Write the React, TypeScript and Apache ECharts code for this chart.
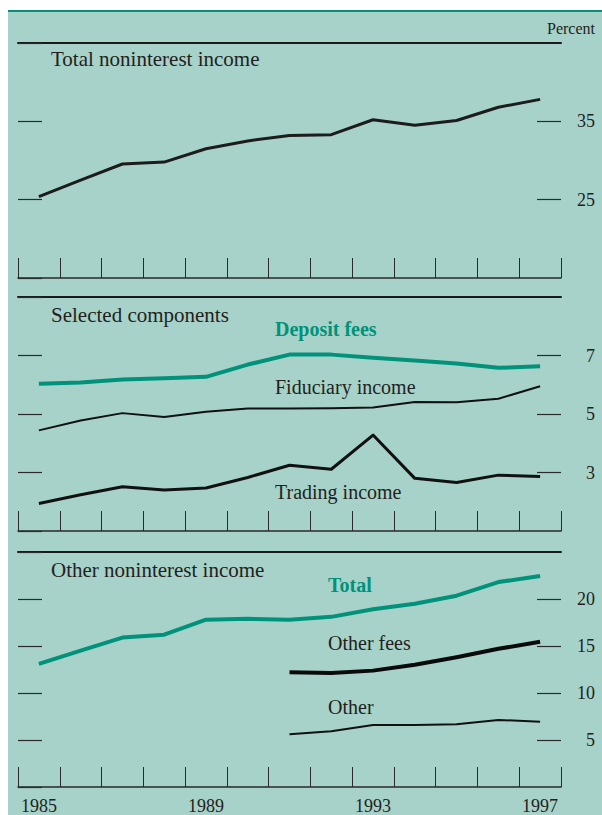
import React, { useEffect, useRef } from "react";
import * as echarts from "echarts";

const years = ["1985", "1986", "1987", "1988", "1989", "1990", "1991", "1992", "1993", "1994", "1995", "1996", "1997"];
const totalNoninterest = [25.4, 27.5, 29.55, 29.8, 31.5, 32.5, 33.2, 33.3, 35.2, 34.5, 35.1, 36.8, 37.8];
const depositFees = [6.03, 6.08, 6.18, 6.22, 6.27, 6.69, 7.03, 7.03, 6.92, 6.83, 6.73, 6.58, 6.63];
const fiduciaryIncome = [4.44, 4.78, 5.03, 4.9, 5.08, 5.19, 5.19, 5.2, 5.22, 5.41, 5.4, 5.52, 5.95];
const tradingIncome = [1.94, 2.24, 2.51, 2.4, 2.47, 2.83, 3.25, 3.11, 4.28, 2.8, 2.66, 2.91, 2.86];
const otherTotal = [13.1, 14.5, 15.9, 16.2, 17.8, 17.9, 17.8, 18.1, 18.9, 19.5, 20.35, 21.8, 22.45];
const otherFees = [null, null, null, null, null, null, 12.2, 12.13, 12.38, 13.0, 13.8, 14.7, 15.45];
const otherOther = [null, null, null, null, null, null, 5.6, 5.92, 6.6, 6.6, 6.67, 7.13, 6.95];

const FONT = "'Liberation Serif', 'Times New Roman', serif";
const INK = "#231f20";
const TEAL = "#00927a";

export default function App() {
  const ref = useRef<HTMLDivElement>(null);
  useEffect(() => {
    if (!ref.current) return;
    const chart = echarts.init(ref.current, null, { renderer: "svg" });
    const grids = [
      { left: 18, right: 41, top: 43, height: 235 },
      { left: 18, right: 41, top: 297, height: 234 },
      { left: 18, right: 41, top: 552, height: 235 },
    ];
    const yRanges = [
      { min: 15, max: 45, interval: 10 },
      { min: 1, max: 9, interval: 2 },
      { min: 0, max: 25, interval: 5 },
    ];
    const xAxes: any[] = [];
    const yAxes: any[] = [];
    grids.forEach((_, i) => {
      xAxes.push({
        type: "category",
        gridIndex: i,
        data: years,
        boundaryGap: true,
        position: "bottom",
        axisLine: { show: true, onZero: false, lineStyle: { color: "#2a2a2a", width: 1.5 } },
        axisTick: { show: true, inside: true, length: 20, interval: 0, lineStyle: { color: "#2a2a2a", width: 1 } },
        axisLabel: {
          show: i === 2,
          interval: 3,
          fontSize: 18,
          fontFamily: FONT,
          color: INK,
          margin: 10,
        },
        splitLine: { show: false },
      });
      xAxes.push({
        type: "category",
        gridIndex: i,
        data: years,
        boundaryGap: true,
        position: "top",
        axisLine: { show: true, onZero: false, lineStyle: { color: "#1a1a1a", width: 2 } },
        axisTick: { show: false },
        axisLabel: { show: false },
        splitLine: { show: false },
      });
      yAxes.push({
        type: "value",
        gridIndex: i,
        position: "left",
        ...yRanges[i],
        axisLine: { show: false, onZero: false },
        axisTick: { show: true, inside: true, length: 24, lineStyle: { color: "#2a2a2a", width: 1.2 } },
        axisLabel: { show: false },
        splitLine: { show: false },
      });
      yAxes.push({
        type: "value",
        gridIndex: i,
        position: "right",
        ...yRanges[i],
        axisLine: { show: false, onZero: false },
        axisTick: { show: true, inside: true, length: 24, lineStyle: { color: "#2a2a2a", width: 1.2 } },
        axisLabel: {
          show: true,
          showMinLabel: false,
          showMaxLabel: false,
          align: "right",
          margin: 34,
          fontSize: 18,
          fontFamily: FONT,
          color: INK,
        },
        splitLine: { show: false },
      });
    });

    const line = (name: string, data: any[], grid: number, color: string, width: number) => ({
      name,
      type: "line",
      xAxisIndex: grid * 2,
      yAxisIndex: grid * 2 + 1,
      data,
      symbol: "none",
      connectNulls: false,
      lineStyle: { color, width, join: "round", cap: "butt" },
      z: 5,
    });

    const txt = (text: string, x: number, y: number, opts: any = {}) => ({
      type: "text",
      x,
      y,
      z: 10,
      style: {
        text,
        fill: opts.fill || INK,
        font: `${opts.bold ? "bold " : ""}${opts.size || 20}px ${FONT}`,
        textAlign: opts.align || "left",
        align: opts.align || "left",
        textVerticalAlign: "middle",
        verticalAlign: "middle",
      },
    });

    chart.setOption({
      animation: false,
      backgroundColor: "transparent",
      grid: grids,
      xAxis: xAxes,
      yAxis: yAxes,
      series: [
        line("Total noninterest income", totalNoninterest, 0, "#1c1c1c", 3),
        line("Deposit fees", depositFees, 1, TEAL, 4),
        line("Fiduciary income", fiduciaryIncome, 1, "#111", 2),
        line("Trading income", tradingIncome, 1, "#111", 3),
        line("Total", otherTotal, 2, TEAL, 4),
        line("Other fees", otherFees, 2, "#0a0a0a", 4),
        line("Other", otherOther, 2, "#111", 2),
      ],
      graphic: [
        txt("Percent", 595, 28, { align: "right", size: 16 }),
        txt("Total noninterest income", 51, 59, { size: 21 }),
        txt("Selected components", 51, 315, { size: 21 }),
        txt("Other noninterest income", 51, 570, { size: 21 }),
        txt("Deposit fees", 275, 329, { bold: true, fill: TEAL }),
        txt("Fiduciary income", 275, 387),
        txt("Trading income", 275, 492),
        txt("Total", 328, 585, { bold: true, fill: TEAL }),
        txt("Other fees", 328, 643),
        txt("Other", 328, 707),
      ],
    });
    return () => chart.dispose();
  }, []);

  return (
    <div style={{ position: "fixed", left: 0, top: 0, width: 602, height: 815, background: "#ffffff" }}>
      <div
        style={{
          position: "absolute",
          left: 8,
          top: 10,
          width: 594,
          height: 805,
          background: "#a7d2c9",
          borderTop: "2.5px solid #0a8f77",
          boxSizing: "border-box",
        }}
      />
      <div ref={ref} style={{ position: "absolute", left: 0, top: 0, width: 602, height: 815 }} />
    </div>
  );
}
